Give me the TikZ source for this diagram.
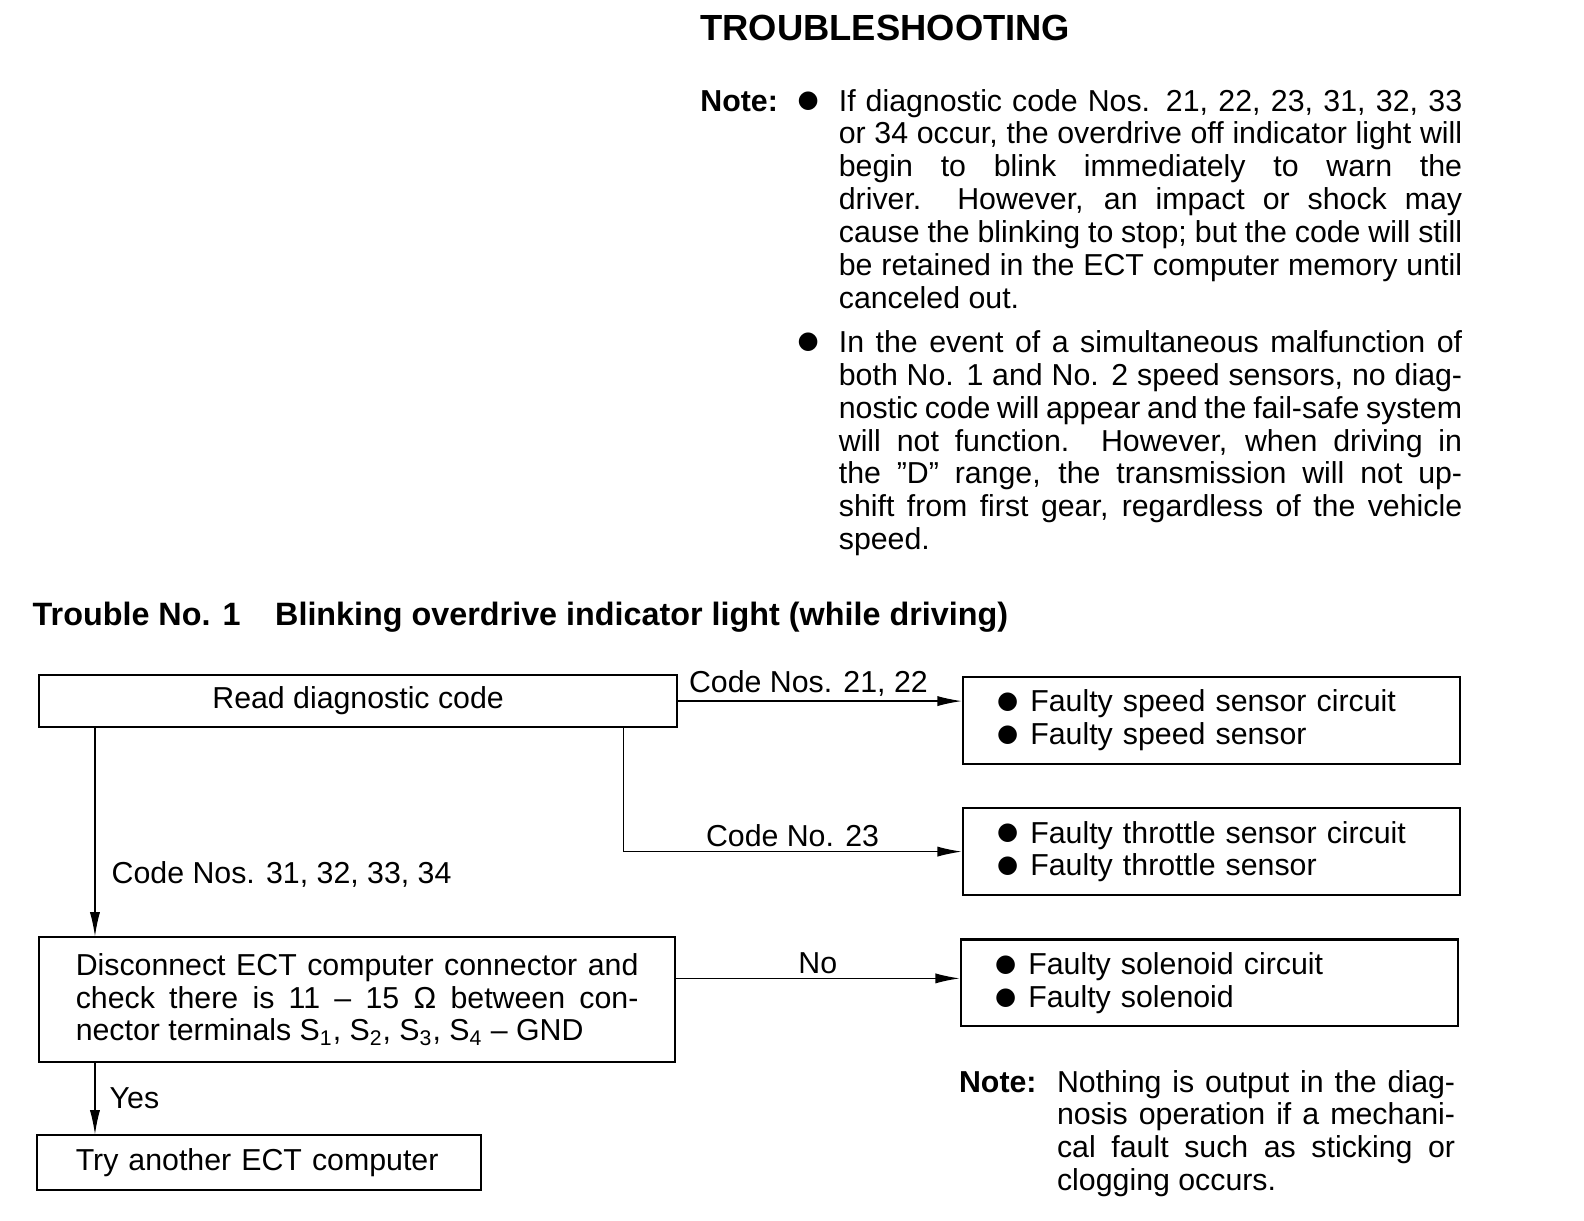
\documentclass[tikz,border=0pt]{standalone}
\usepackage{fontspec}
\setmainfont{Liberation Sans}
\newfontfamily\symfont{DejaVu Sans}
\usetikzlibrary{arrows.meta, positioning, calc}
\newcommand{\bdot}{{\symfont\fontsize{12}{12}\selectfont ●}}
\newcommand{\rdot}{\raisebox{1.5pt}{\bdot}\hspace{6pt}}
\hyphenpenalty=10000
\exhyphenpenalty=10000

\begin{document}
\begin{tikzpicture}[x=0.5pt, y=-0.5pt,
  every node/.style={font=\fontsize{15}{16.25}\selectfont, inner sep=0pt},
  head/.style={font=\bfseries\fontsize{15}{16.25}\selectfont, anchor=base west},
  para/.style={align=justify, anchor=base west},
  box/.style={draw, line width=1pt},
  fault/.style={box, minimum width=246pt, minimum height=43pt, inner xsep=17pt, text width=212pt, align=left},
  arr/.style={line width=0.6pt, -{Latex[length=12pt, width=5pt]}},
  lbl/.style={inner sep=2pt}]
  \useasboundingbox (0,0) rectangle (1568,1208);

  \node[head, font=\bfseries\fontsize{18}{18}\selectfont] (title) at (693,40) {TROUBLESHOOTING};
  \node[head] (note1) at (693,110) {Note:};
  \node (dot1) at (800,100) {\bdot};
  \node[para, text width=308.5pt] (par1) at (830,110) {If diagnostic code Nos. 21, 22, 23, 31, 32, 33\linebreak
    or 34 occur, the overdrive off indicator light will\linebreak
    begin to blink immediately to warn the\linebreak
    driver.\ \ However, an impact or shock may\linebreak
    cause the blinking to stop; but the code will still\linebreak
    be retained in the ECT computer memory until\linebreak
    canceled out.};
  \node (dot2) at (800,339) {\bdot};
  \node[para, text width=308.5pt] (par2) at (830,349) {In the event of a simultaneous malfunction of\linebreak
    both No. 1 and No. 2 speed sensors, no diag-\linebreak
    nostic code will appear and the fail-safe system\linebreak
    will not function.\ \ However, when driving in\linebreak
    the ''D'' range, the transmission will not up-\linebreak
    shift from first gear, regardless of the vehicle\linebreak
    speed.};

  \node[head, font=\bfseries\fontsize{16}{16}\selectfont] (trb) at (32,619) {Trouble No. 1};
  \node[head, font=\bfseries\fontsize{16}{16}\selectfont] (trbtxt) at (272,619) {Blinking overdrive indicator light (while driving)};

  \node[box, minimum width=315.5pt, minimum height=26pt] (read) at (354.5,694) {Read diagnostic code};
  \node[fault] (spd) at (1199,713) {\rdot Faulty speed sensor circuit\\ \rdot Faulty speed sensor};
  \node[fault] (thr) at (1199,843) {\rdot Faulty throttle sensor circuit\\ \rdot Faulty throttle sensor};
  \node[fault] (sol) at (1197,973) {\rdot Faulty solenoid circuit\\ \rdot Faulty solenoid};
  \node[box, minimum width=314.5pt, minimum height=61.5pt, inner xsep=18pt, text width=278.5pt, align=justify] (disc) at (353.5,989.5)
    {Disconnect ECT computer connector and\linebreak check there is 11 -- 15 Ω between con-\linebreak
     nector terminals S\textsubscript{1}, S\textsubscript{2}, S\textsubscript{3}, S\textsubscript{4} -- GND};
  \node[box, minimum width=219.5pt, minimum height=27pt, inner xsep=19pt, text width=181.5pt, align=left] (ecu) at (256.5,1151) {Try another ECT computer};

  \draw[arr] (read.east) -- (read.east -| spd.west) node[lbl, pos=0.46, above] (c1) {Code Nos. 21, 22};
  \draw[arr] ($(read.south east)+(-54,0)$) |- (thr.west) node[lbl, pos=0.75, above] (c2) {Code No. 23};
  \draw[arr] (read.south west) ++(56,0) coordinate (d0) -- (d0 |- disc.north) node[lbl, pos=0.7, right=6pt] (c3) {Code Nos. 31, 32, 33, 34};
  \draw[arr] ($(disc.east)+(0,-21)$) coordinate (n0) -- (n0 -| sol.west) node[lbl, midway, above] (c4) {No};
  \draw[arr] (disc.south west) ++(56,0) coordinate (y0) -- (y0 |- ecu.north) node[lbl, midway, right=5pt] (c5) {Yes};

  \node[head] (note2) at (949,1081) {Note:};
  \node[para, text width=197pt] (par3) at (1046,1081) {Nothing is output in the diag-\linebreak
    nosis operation if a mechani-\linebreak
    cal fault such as sticking or\linebreak
    clogging occurs.};
\end{tikzpicture}
\end{document}
